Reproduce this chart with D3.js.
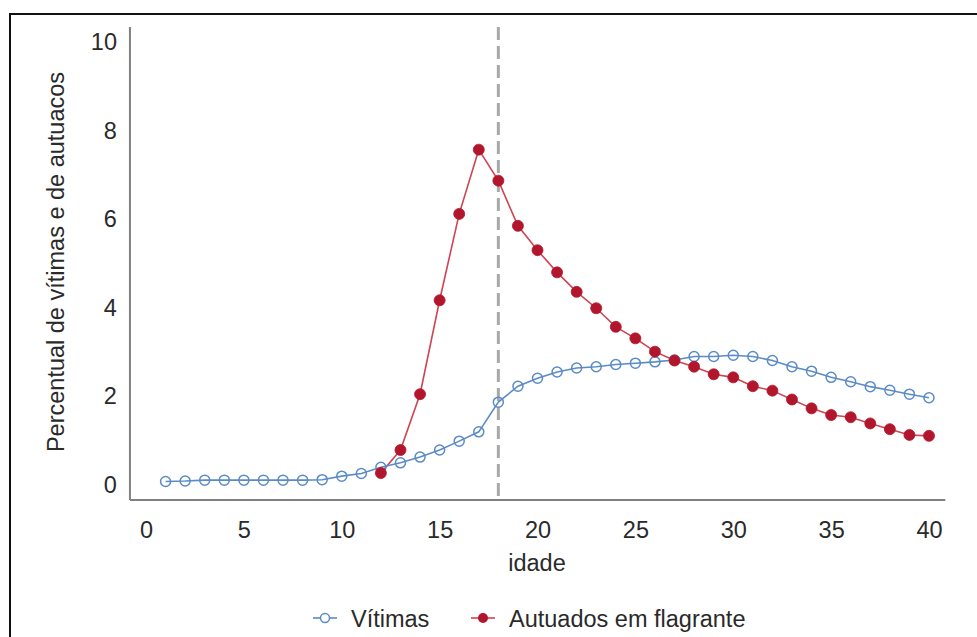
<!DOCTYPE html>
<html>
<head>
<meta charset="utf-8">
<script src="https://cdn.jsdelivr.net/npm/d3@7/dist/d3.min.js"></script>
<style>
  html, body { margin: 0; padding: 0; background: #fff; }
  svg { display: block; font-family: "Liberation Sans", Arial, sans-serif; }
</style>
</head>
<body>
<svg id="chart" width="977" height="637"></svg>
<script>
// ---- data ----
const vitimasAges = d3.range(1, 41);
const vitimasValues = [0.08,0.09,0.11,0.11,0.11,0.11,0.11,0.11,0.12,0.20,
                       0.26,0.40,0.50,0.63,0.79,0.99,1.20,1.87,2.23,2.41,
                       2.55,2.64,2.67,2.72,2.75,2.78,2.82,2.90,2.90,2.93,
                       2.90,2.81,2.67,2.57,2.43,2.33,2.22,2.14,2.05,1.97];
const autuadosAges = d3.range(12, 41);
const autuadosValues = [0.27,0.79,2.05,4.17,6.12,7.57,6.87,5.85,5.30,4.80,
                        4.36,3.99,3.57,3.31,3.01,2.81,2.67,2.50,2.43,2.23,
                        2.13,1.93,1.73,1.58,1.53,1.39,1.26,1.13,1.11];
const xTicks = [0,5,10,15,20,25,30,35,40];
const yTicks = [0,2,4,6,8,10];
const cutoffAge = 18;
const seriesNames = ["Vítimas", "Autuados em flagrante"];
const xTitle = "idade";
const yTitle = "Percentual de vítimas e de autuacos";

// ---- layout ----
const svg = d3.select("#chart");
const blue = "#5b8bc7", red = "#b2162c", redLine = "#cf4453";
const fontSize = 23.5;
const textColor = "#2a2a2a";

const x = d3.scaleLinear().domain([0, 40]).range([146, 929]);
const y = d3.scaleLinear().domain([0, 10]).range([485, 42]);

// frame
svg.append("rect").attr("x", 10).attr("y", 14).attr("width", 1000).attr("height", 700)
  .attr("fill", "none").attr("stroke", "#111").attr("stroke-width", 2);

// axis lines
const axisColor = "#808080";
svg.append("line").attr("x1", x(-0.82)).attr("x2", x(-0.82))
  .attr("y1", y(10.34)).attr("y2", y(-0.34))
  .attr("stroke", axisColor).attr("stroke-width", 2);
svg.append("line").attr("x1", x(-0.82)).attr("x2", x(40.83))
  .attr("y1", y(-0.34)).attr("y2", y(-0.34))
  .attr("stroke", axisColor).attr("stroke-width", 2);

// x tick labels
const gx = svg.append("g").attr("transform", `translate(0,${y(-0.34)})`)
  .call(d3.axisBottom(x).tickValues(xTicks).tickSize(0).tickPadding(21).tickFormat(d3.format("d")));
gx.select(".domain").remove();
gx.selectAll("text").attr("font-size", fontSize).attr("fill", textColor)
  .attr("font-family", "Liberation Sans, Arial, sans-serif");

// y tick labels
const gy = svg.append("g").attr("transform", `translate(${x(-0.82)},0)`)
  .call(d3.axisLeft(y).tickValues(yTicks).tickSize(0).tickPadding(13).tickFormat(d3.format("d")));
gy.select(".domain").remove();
gy.selectAll("text").attr("font-size", fontSize).attr("fill", textColor)
  .attr("font-family", "Liberation Sans, Arial, sans-serif");

// axis titles
svg.append("text").attr("x", 537).attr("y", 571).attr("text-anchor", "middle")
  .attr("font-size", fontSize).attr("fill", textColor).text(xTitle);
svg.append("text").attr("transform", "translate(64,262) rotate(-90)")
  .attr("text-anchor", "middle").attr("font-size", fontSize).attr("fill", textColor).text(yTitle);

// cutoff dashed line
svg.append("line").attr("x1", x(cutoffAge)).attr("x2", x(cutoffAge))
  .attr("y1", y(10.34)).attr("y2", y(-0.34))
  .attr("stroke", "#a8a8a8").attr("stroke-width", 3).attr("stroke-dasharray", "13,6");

// series
const vit = vitimasAges.map((a, i) => ({ a, v: vitimasValues[i] }));
const aut = autuadosAges.map((a, i) => ({ a, v: autuadosValues[i] }));
const line = d3.line().x(d => x(d.a)).y(d => y(d.v));

svg.append("path").datum(aut).attr("d", line).attr("fill", "none")
  .attr("stroke", redLine).attr("stroke-width", 1.6);
svg.append("path").datum(vit).attr("d", line).attr("fill", "none")
  .attr("stroke", blue).attr("stroke-width", 1.6);

svg.append("g").selectAll("circle").data(vit).join("circle")
  .attr("cx", d => x(d.a)).attr("cy", d => y(d.v)).attr("r", 5)
  .attr("fill", "none").attr("stroke", blue).attr("stroke-width", 1.5);
svg.append("g").selectAll("circle").data(aut).join("circle")
  .attr("cx", d => x(d.a)).attr("cy", d => y(d.v)).attr("r", 5.5)
  .attr("fill", red).attr("stroke", red).attr("stroke-width", 0.8);

// legend
const ly = 618;
const leg = svg.append("g");
leg.append("line").attr("x1", 313).attr("x2", 337).attr("y1", ly).attr("y2", ly)
  .attr("stroke", blue).attr("stroke-width", 1.6);
leg.append("circle").attr("cx", 325).attr("cy", ly).attr("r", 4.5)
  .attr("fill", "#fff").attr("stroke", blue).attr("stroke-width", 1.5);
leg.append("text").attr("x", 351).attr("y", ly + 8.5).attr("font-size", fontSize)
  .attr("fill", textColor).text(seriesNames[0]);
leg.append("line").attr("x1", 471).attr("x2", 495).attr("y1", ly).attr("y2", ly)
  .attr("stroke", redLine).attr("stroke-width", 1.6);
leg.append("circle").attr("cx", 483).attr("cy", ly).attr("r", 5)
  .attr("fill", red);
leg.append("text").attr("x", 509).attr("y", ly + 8.5).attr("font-size", fontSize)
  .attr("fill", textColor).text(seriesNames[1]);
</script>
</body>
</html>
